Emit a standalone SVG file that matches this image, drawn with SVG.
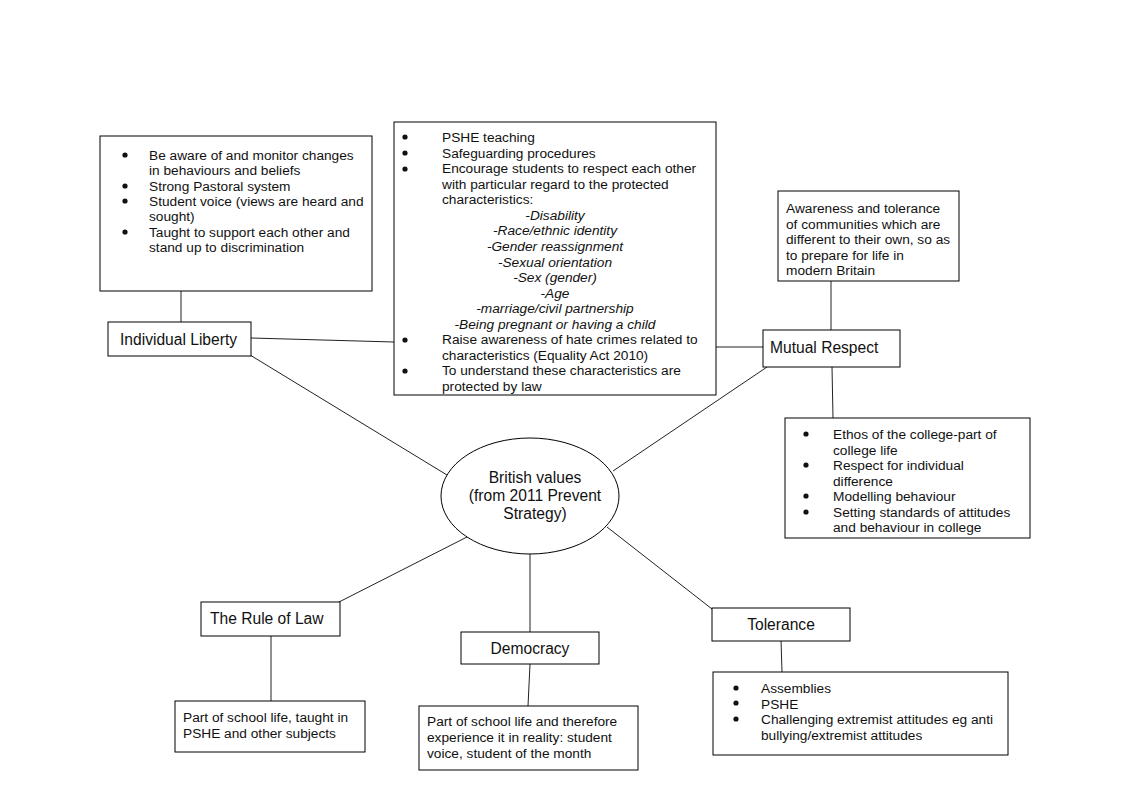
<svg xmlns="http://www.w3.org/2000/svg" width="1122" height="792" viewBox="0 0 1122 792">
<style>
.box{fill:#fff;stroke:#000;stroke-width:1}
.con{stroke:#222;stroke-width:1;fill:none}
.t{font-family:"Liberation Sans",Arial,sans-serif;font-size:13.7px;fill:#111}
.lbl{font-family:"Liberation Sans",Arial,sans-serif;font-size:15.6px;fill:#111}
.it{font-style:italic;text-anchor:middle}
.b{fill:#111}
</style>
<rect width="1122" height="792" fill="#fff"/>
<g id="connectors">
<line class="con" x1="181" y1="291" x2="181" y2="322"/>
<line class="con" x1="251" y1="338" x2="394" y2="342"/>
<line class="con" x1="250" y1="355" x2="447" y2="475"/>
<line class="con" x1="716" y1="347" x2="763" y2="347"/>
<line class="con" x1="831" y1="281" x2="831" y2="330"/>
<line class="con" x1="832" y1="367" x2="833" y2="418"/>
<line class="con" x1="767" y1="367" x2="613" y2="471"/>
<line class="con" x1="467" y1="537" x2="339" y2="602"/>
<line class="con" x1="271" y1="636" x2="271" y2="701"/>
<line class="con" x1="530" y1="554" x2="530" y2="632"/>
<line class="con" x1="530" y1="664" x2="528" y2="706"/>
<line class="con" x1="607" y1="527" x2="712" y2="609"/>
<line class="con" x1="781" y1="640" x2="782" y2="672"/>
</g>
<g id="liberty-details">
<rect class="box" x="100" y="136" width="272" height="155"/>
<circle class="b" cx="125" cy="155" r="2.6"/>
<circle class="b" cx="125" cy="186" r="2.6"/>
<circle class="b" cx="125" cy="201" r="2.6"/>
<circle class="b" cx="125" cy="232" r="2.6"/>
<text class="t" x="149" y="160">Be aware of and monitor changes</text>
<text class="t" x="149" y="175.4">in behaviours and beliefs</text>
<text class="t" x="149" y="190.7">Strong Pastoral system</text>
<text class="t" x="149" y="206">Student voice (views are heard and</text>
<text class="t" x="149" y="221.4">sought)</text>
<text class="t" x="149" y="236.8">Taught to support each other and</text>
<text class="t" x="149" y="252">stand up to discrimination</text>
</g>
<g id="individual-liberty">
<rect class="box" x="108" y="322" width="143" height="34"/>
<text class="lbl" x="120" y="344.5">Individual Liberty</text>
</g>
<g id="shared-details">
<rect class="box" x="394" y="122" width="322" height="273"/>
<circle class="b" cx="405" cy="137" r="2.6"/>
<circle class="b" cx="405" cy="153" r="2.6"/>
<circle class="b" cx="405" cy="169" r="2.6"/>
<circle class="b" cx="405" cy="340" r="2.6"/>
<circle class="b" cx="405" cy="371" r="2.6"/>
<text class="t" x="442" y="142">PSHE teaching</text>
<text class="t" x="442" y="157.6">Safeguarding procedures</text>
<text class="t" x="442" y="173.1">Encourage students to respect each other</text>
<text class="t" x="442" y="188.7">with particular regard to the protected</text>
<text class="t" x="442" y="204.2">characteristics:</text>
<text class="t it" x="555" y="219.8">-Disability</text>
<text class="t it" x="555" y="235.4">-Race/ethnic identity</text>
<text class="t it" x="555" y="250.9">-Gender reassignment</text>
<text class="t it" x="555" y="266.5">-Sexual orientation</text>
<text class="t it" x="555" y="282">-Sex (gender)</text>
<text class="t it" x="555" y="297.6">-Age</text>
<text class="t it" x="555" y="313.2">-marriage/civil partnership</text>
<text class="t it" x="555" y="328.7">-Being pregnant or having a child</text>
<text class="t" x="442" y="344.3">Raise awareness of hate crimes related to</text>
<text class="t" x="442" y="359.8">characteristics (Equality Act 2010)</text>
<text class="t" x="442" y="375.4">To understand these characteristics are</text>
<text class="t" x="442" y="391">protected by law</text>
</g>
<g id="respect-awareness">
<rect class="box" x="778" y="191" width="181" height="90"/>
<text class="t" x="786" y="213">Awareness and tolerance</text>
<text class="t" x="786" y="228.5">of communities which are</text>
<text class="t" x="786" y="244">different to their own, so as</text>
<text class="t" x="786" y="259.5">to prepare for life in</text>
<text class="t" x="786" y="275">modern Britain</text>
</g>
<g id="mutual-respect">
<rect class="box" x="763" y="330" width="137" height="37"/>
<text class="lbl" x="770" y="352.5">Mutual Respect</text>
</g>
<g id="respect-details">
<rect class="box" x="785" y="418" width="245" height="120"/>
<circle class="b" cx="806" cy="434" r="2.6"/>
<circle class="b" cx="806" cy="465" r="2.6"/>
<circle class="b" cx="806" cy="496" r="2.6"/>
<circle class="b" cx="806" cy="512" r="2.6"/>
<text class="t" x="833" y="439">Ethos of the college-part of</text>
<text class="t" x="833" y="454.5">college life</text>
<text class="t" x="833" y="470">Respect for individual</text>
<text class="t" x="833" y="485.5">difference</text>
<text class="t" x="833" y="501">Modelling behaviour</text>
<text class="t" x="833" y="516.5">Setting standards of attitudes</text>
<text class="t" x="833" y="532">and behaviour in college</text>
</g>
<g id="british-values">
<ellipse cx="530" cy="496" rx="89" ry="58" fill="#fff" stroke="#000" stroke-width="1"/>
<text class="lbl" x="535" y="482.5" text-anchor="middle">British values</text>
<text class="lbl" x="535" y="501" text-anchor="middle">(from 2011 Prevent</text>
<text class="lbl" x="535" y="519" text-anchor="middle">Strategy)</text>
</g>
<g id="rule-of-law">
<rect class="box" x="201" y="602" width="139" height="34"/>
<text class="lbl" x="210" y="623.5">The Rule of Law</text>
</g>
<g id="law-details">
<rect class="box" x="175" y="701" width="190" height="51"/>
<text class="t" x="183" y="722">Part of school life, taught in</text>
<text class="t" x="183" y="738">PSHE and other subjects</text>
</g>
<g id="democracy">
<rect class="box" x="461" y="632" width="138" height="32"/>
<text class="lbl" x="530" y="653.5" text-anchor="middle">Democracy</text>
</g>
<g id="democracy-details">
<rect class="box" x="419" y="706" width="219" height="64"/>
<text class="t" x="427" y="726">Part of school life and therefore</text>
<text class="t" x="427" y="742">experience it in reality: student</text>
<text class="t" x="427" y="758">voice, student of the month</text>
</g>
<g id="tolerance">
<rect class="box" x="712" y="608" width="138" height="33"/>
<text class="lbl" x="781" y="629.5" text-anchor="middle">Tolerance</text>
</g>
<g id="tolerance-details">
<rect class="box" x="713" y="672" width="295" height="83"/>
<circle class="b" cx="736" cy="688" r="2.6"/>
<circle class="b" cx="736" cy="703" r="2.6"/>
<circle class="b" cx="736" cy="719" r="2.6"/>
<text class="t" x="761" y="693">Assemblies</text>
<text class="t" x="761" y="708.5">PSHE</text>
<text class="t" x="761" y="724">Challenging extremist attitudes eg anti</text>
<text class="t" x="761" y="739.5">bullying/extremist attitudes</text>
</g>
</svg>
